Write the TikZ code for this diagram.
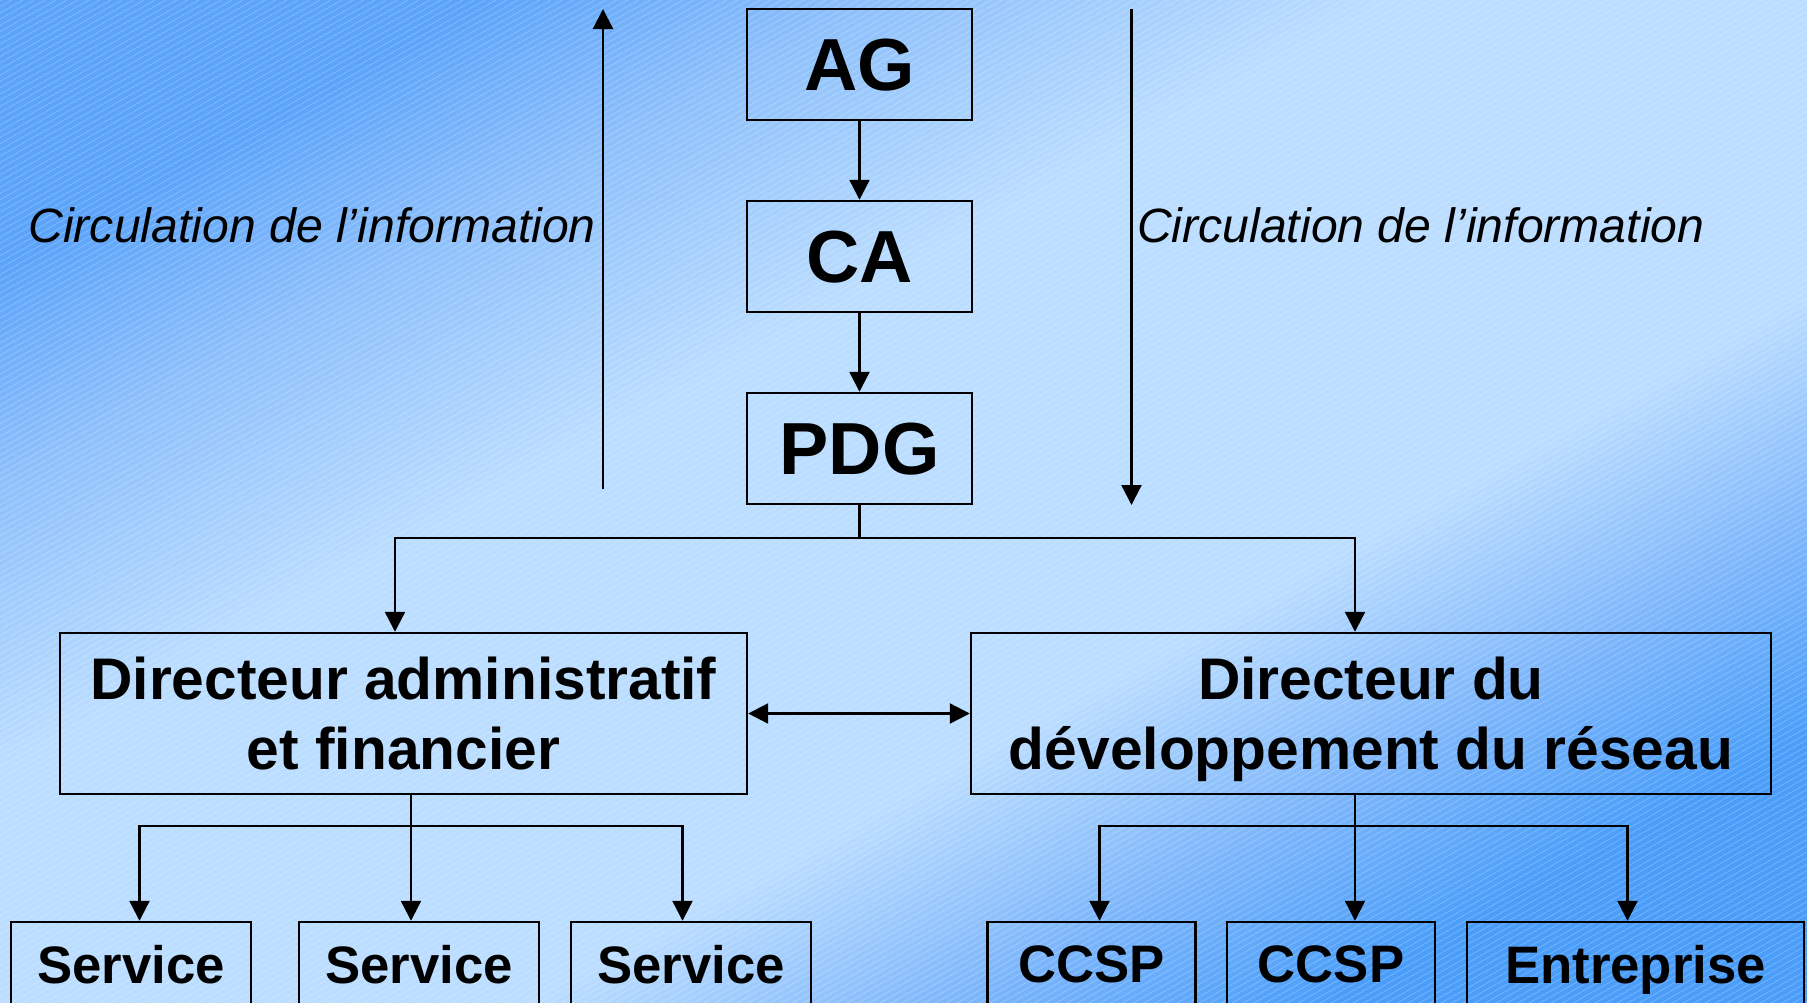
\documentclass[tikz,border=0pt]{standalone}
\usepackage{fontspec}
\setmainfont{Liberation Sans}
\usetikzlibrary{arrows.meta}
\usetikzlibrary{positioning}

\definecolor{bgdeep}{HTML}{5CA4FA}
\definecolor{bgmid}{HTML}{8CBFFB}
\definecolor{bglight}{HTML}{BBDDFF}
\definecolor{bgmidlow}{HTML}{7DB6FB}
\definecolor{bgdeeplow}{HTML}{4A9EFA}
\pgfdeclareverticalshading{bgshade}{100bp}{color(0bp)=(bgdeeplow); color(25bp)=(bgdeeplow); color(32bp)=(bgmidlow); color(40bp)=(bglight); color(58bp)=(bglight); color(68bp)=(bgmid); color(75bp)=(bgdeep); color(100bp)=(bgdeep)}

\tikzset{
  orgbox/.style={draw, line width=0.7pt, inner sep=0pt, align=center, text depth=0pt},
  topbox/.style={orgbox, minimum width=22.5mm, minimum height=11.1mm,
    font=\fontsize{21}{25}\selectfont\bfseries},
  dirbox/.style={orgbox, minimum height=16.1mm,
    font=\fontsize{16.7}{20}\selectfont\bfseries},
  unitbox/.style={orgbox, minimum height=8.5mm,
    font=\fontsize{15}{18}\selectfont\bfseries},
  infotext/.style={inner sep=0pt, font=\fontsize{13.7}{16}\selectfont\itshape},
  hatch/.style={white, opacity=0.22, line width=0.25pt}
}

\begin{document}
\begin{tikzpicture}[x=0.1mm, y=-0.1mm,
      >={Triangle[length=2mm, width=2mm]},
      line width=0.65pt,
      node distance=19.2mm,
      on grid]

    % background
    \useasboundingbox (0,0) rectangle (1807,1003);
    \clip (0,0) rectangle (1807,1003);
    \shade[shading=bgshade, shading angle=29] (0,0) rectangle (1807,1003);
    \foreach \k in {-162,...,165}
      \draw[hatch] (\k*11,1003) -- ++(1772,-1003);

    % direction
    \node[topbox]
      (AG) at (859.5,64.5) {AG};
    \node[topbox]
      (CA) [below=of AG] {CA};
    \node[topbox]
      (PDG) [below=of CA] {PDG};
    \node[dirbox, minimum width=68.7mm]
      (DAF) at (403.5,713.5) {Directeur administratif\\et financier};
    \node[dirbox, minimum width=80mm]
      (DDR) at (1371,713.5) {Directeur du\\développement du réseau};

    % services
    \node[unitbox, minimum width=24mm]
      (Service1) at (131,964.5) {Service};
    \node[unitbox, minimum width=24mm]
      (Service2) at (419,964.5) {Service};
    \node[unitbox, minimum width=24mm]
      (Service3) at (691,964.5) {Service};
    \node[unitbox, minimum width=20.8mm]
      (CCSP1) at (1091.5,964.5) {CCSP};
    \node[unitbox, minimum width=20.8mm]
      (CCSP2) at (1331,964.5) {CCSP};
    \node[unitbox, minimum width=33.7mm]
      (Entreprise) at (1635.5,964.5) {Entreprise};

    % circulation de l'information
    \coordinate (UpFoot) at (603,489);
    \coordinate (UpTip) at (603,9);
    \coordinate (DownTop) at (1131.5,9);
    \coordinate (DownTip) at (1131.5,505);
    \node[infotext, anchor=base east]
      (InfoUp) at (597,242) {Circulation de l’information};
    \node[infotext, anchor=base west]
      (InfoDown) at (1136,242) {Circulation de l’information};
    \draw[->] (UpFoot) -- (UpTip);
    \draw[->] (DownTop) -- (DownTip);

    % liens
    \draw[->] (AG) -- (CA);
    \draw[->] (CA) -- (PDG);
    \draw[->] (PDG.south) -- ++(0,33) -| ([xshift=-0.85mm]DAF.north);
    \draw[->] (PDG.south) -- ++(0,33) -| ([xshift=-1.6mm]DDR.north);
    \draw[<->] (DAF) -- (DDR);
    \draw[->] ([xshift=0.75mm]DAF.south) -- ++(0,31) -| ([xshift=0.85mm]Service1.north);
    \draw[->] ([xshift=0.75mm]DAF.south) -- ([xshift=0.75mm]DAF.south |- Service2.north);
    \draw[->] ([xshift=0.75mm]DAF.south) -- ++(0,31) -| ([xshift=-0.85mm]Service3.north);
    \draw[->] ([xshift=-1.6mm]DDR.south) -- ++(0,31) -| ([xshift=0.8mm]CCSP1.north);
    \draw[->] ([xshift=-1.6mm]DDR.south) -- ([xshift=-1.6mm]DDR.south |- CCSP2.north);
    \draw[->] ([xshift=-1.6mm]DDR.south) -- ++(0,31) -| ([xshift=-0.8mm]Entreprise.north);

  \end{tikzpicture}
\end{document}
